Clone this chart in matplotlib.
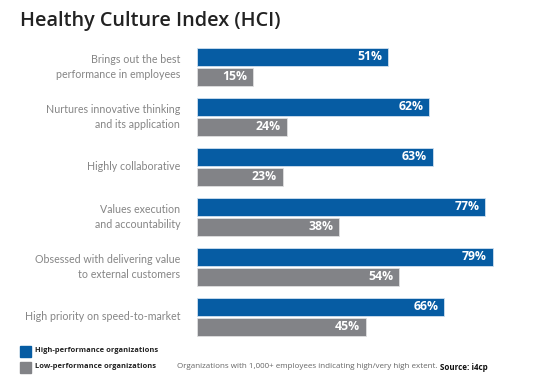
import matplotlib.pyplot as plt
import numpy as np

# Data
categories = [
    "Brings out the best\nperformance in employees",
    "Nurtures innovative thinking\nand its application",
    "Highly collaborative",
    "Values execution\nand accountability",
    "Obsessed with delivering value\nto external customers",
    "High priority on speed-to-market",
]
high_perf = [51, 62, 63, 77, 79, 66]
low_perf = [15, 24, 23, 38, 54, 45]

blue = "#065ca3"
grey = "#828387"
plt.rcParams["font.family"] = ["Open Sans", "DejaVu Sans"]

fig = plt.figure(figsize=(5.42, 3.9), dpi=100)
ax = fig.add_axes([197 / 542, 1 - 342 / 390, 344.5 / 542, 300 / 390])

y = np.arange(len(categories))
h = 0.36
ax.barh(y - 0.2, high_perf, height=h, color=blue, edgecolor="#cfe0f0", linewidth=0.6)
ax.barh(y + 0.2, low_perf, height=h, color=grey, edgecolor="#e0e0e0", linewidth=0.6)

for i in range(len(categories)):
    ax.text(high_perf[i] - 1.6, y[i] - 0.2, f"{high_perf[i]}%", ha="right", va="center",
            color="white", fontsize=8.8, fontweight="bold")
    ax.text(low_perf[i] - 1.6, y[i] + 0.2, f"{low_perf[i]}%", ha="right", va="center",
            color="white", fontsize=8.8, fontweight="bold")
    ax.text(-4.5, y[i], categories[i], ha="right", va="center", color="#858585",
            fontsize=7.7, linespacing=1.55, family=["Lato", "DejaVu Sans"])

ax.set_xlim(0, 92)
ax.set_ylim(5.5, -0.5)
ax.axis("off")

# Title
fig.text(20 / 542, 1 - 21 / 390, "Healthy Culture Index (HCI)", ha="left", va="center",
         fontsize=14.3, fontweight="semibold", color="#222222")

# Legend
fig.patches.append(plt.Rectangle((20 / 542, 1 - 357 / 390), 11 / 542, 11 / 390,
                                 transform=fig.transFigure, color=blue))
fig.patches.append(plt.Rectangle((20 / 542, 1 - 373 / 390), 11 / 542, 11 / 390,
                                 transform=fig.transFigure, color=grey))
fig.text(35 / 542, 1 - 351 / 390, "High-performance organizations", ha="left", va="center",
         fontsize=5.4, fontweight="bold", color="#222222")
fig.text(35 / 542, 1 - 367 / 390, "Low-performance organizations", ha="left", va="center",
         fontsize=5.4, fontweight="bold", color="#222222")
note = fig.text(177 / 542, 1 - 367 / 390,
                "Organizations with 1,000+ employees indicating high/very high extent. ",
                ha="left", va="center", fontsize=5.8, color="#666666")
fig.canvas.draw()
bb = note.get_window_extent()
fig.text(bb.x1 / fig.bbox.width, 1 - 367 / 390, "Source: i4cp", ha="left", va="center",
         fontsize=5.8, fontweight="bold", color="#111111")

fig.savefig("out.png", dpi=100)
